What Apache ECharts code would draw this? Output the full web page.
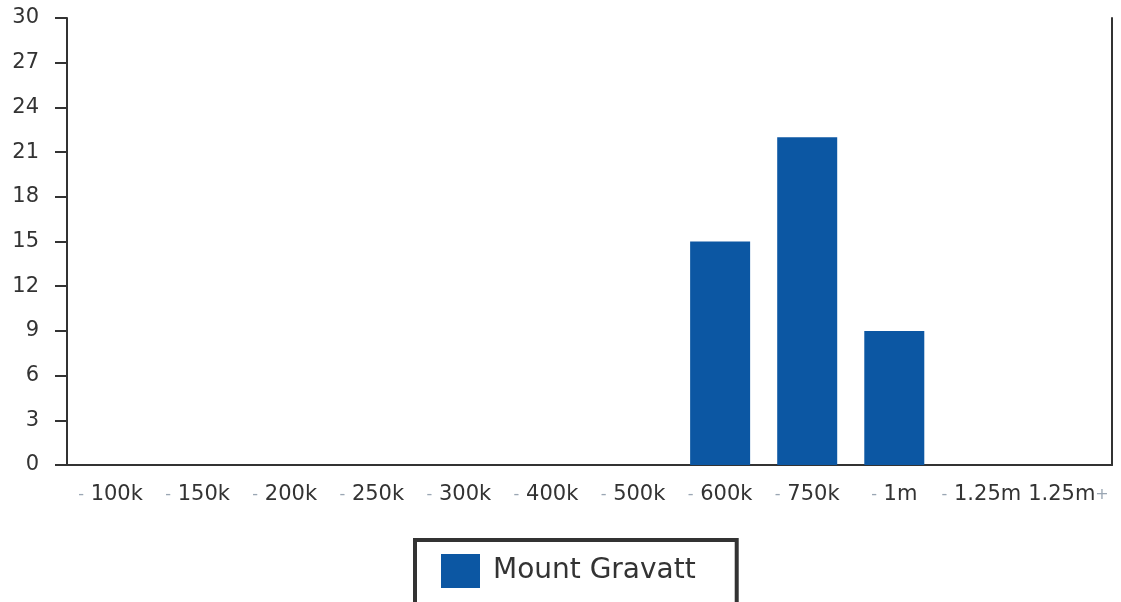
<!DOCTYPE html>
<html>
<head>
<meta charset="utf-8">
<script src="https://cdn.jsdelivr.net/npm/echarts@6/dist/echarts.min.js"></script>
<style>
  html, body { margin: 0; padding: 0; background: #fff; }
  #chart { width: 1121px; height: 602px; }
</style>
</head>
<body>
<div id="chart"></div>
<script>
var categories = ['100k', '150k', '200k', '250k', '300k', '400k', '500k', '600k', '750k', '1m', '1.25m', '1.25m+'];
var seriesName = 'Mount Gravatt';
var counts = [0, 0, 0, 0, 0, 0, 0, 15, 22, 9, 0, 0];
var yTicks = [0, 3, 6, 9, 12, 15, 18, 21, 24, 27, 30];

var chart = echarts.init(document.getElementById('chart'));
chart.setOption({
    animation: false,
    textStyle: { fontFamily: 'DejaVu Sans' },
    grid: { left: 67, right: 9, top: 18, bottom: 137 },
    legend: {
        left: 415,
        top: 540,
        data: [seriesName],
        icon: 'rect',
        borderColor: '#333',
        borderWidth: 4,
        padding: [14, 41, 20, 26],
        itemWidth: 39,
        itemHeight: 34,
        itemGap: 14,
        textStyle: { fontSize: 28, color: '#333', padding: [0, 0, 0, 8] }
    },
    xAxis: {
        type: 'category',
        data: categories,
        axisLine: { lineStyle: { color: '#333', width: 2 } },
        axisTick: { alignWithLabel: true, length: 12, lineStyle: { color: '#333', width: 2 } },
        axisLabel: {
            interval: 0,
            margin: 19,
            formatter: function (v) {
                if (v === '1.25m+') return '1.25m{g|+}';
                return '{g|-} ' + v;
            },
            fontSize: 21,
            color: '#333',
            rich: { g: { color: '#9aa6b3', fontSize: 16 } }
        }
    },
    yAxis: [{
        type: 'value',
        min: 0,
        max: yTicks[yTicks.length - 1],
        interval: 3,
        splitLine: { show: false },
        axisLine: { show: true, lineStyle: { color: '#333', width: 2 } },
        axisTick: { show: true, length: 12, lineStyle: { color: '#333', width: 2 } },
        axisLabel: { fontSize: 21, color: '#333', margin: 28 }
    }, {
        type: 'value',
        position: 'right',
        min: 0,
        max: 30,
        interval: 3,
        splitLine: { show: false },
        axisLine: { show: true, lineStyle: { color: '#333', width: 2 } },
        axisTick: { show: false },
        axisLabel: { show: false }
    }],
    series: [{
        name: seriesName,
        type: 'bar',
        data: counts,
        barWidth: 60,
        itemStyle: { color: '#0c57a3' }
    }]
});
</script>
</body>
</html>
